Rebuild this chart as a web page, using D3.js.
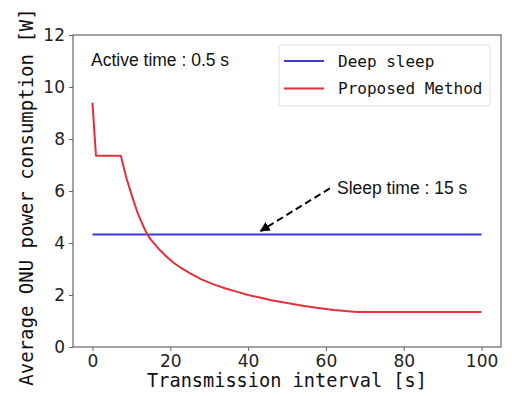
<!DOCTYPE html>
<html>
<head>
<meta charset="utf-8">
<script src="https://cdn.jsdelivr.net/npm/d3@7"></script>
<style>
  html, body { margin: 0; padding: 0; background: #fff; }
  svg { display: block; }
  .tick text { font-family: "DejaVu Sans", sans-serif; font-size: 17px; fill: #222; }
</style>
</head>
<body>
<svg id="chart" width="512" height="396"></svg>
<script>
// values
const xTicks = [0, 20, 40, 60, 80, 100];
const yTicks = [0, 2, 4, 6, 8, 10, 12];
const deepT = [0, 100];
const deepP = [4.33, 4.33];
const propT = [0, 0.9, 7.3, 8, 8.75, 9.5, 10.5, 11.5, 12.5, 13.5, 14.1, 15, 17, 19, 21, 23, 25, 28, 31, 34, 37, 40, 43, 46, 50, 54, 58, 62, 65, 68, 100];
const propP = [9.4, 7.36, 7.36, 6.93, 6.49, 6.12, 5.66, 5.2, 4.84, 4.51, 4.33, 4.13, 3.78, 3.48, 3.22, 3.02, 2.84, 2.6, 2.42, 2.26, 2.13, 2.0, 1.9, 1.8, 1.69, 1.59, 1.5, 1.42, 1.38, 1.35, 1.35];
const arrowFrom = [61, 6.1];
const arrowTo = [43.2, 4.46];

const svg = d3.select("#chart");
const m = { l: 73, r: 501, t: 35, b: 347 };
const x = d3.scaleLinear().domain([-5, 105]).range([m.l, m.r]);
const y = d3.scaleLinear().domain([0, 12]).range([m.b, m.t]);

// frame
svg.append("rect").attr("x", m.l).attr("y", m.t).attr("width", m.r - m.l).attr("height", m.b - m.t)
  .attr("fill", "none").attr("stroke", "#666").attr("stroke-width", 1.2);

const gx = svg.append("g").attr("transform", `translate(0,${m.b})`)
  .call(d3.axisBottom(x).tickValues(xTicks).tickSize(4).tickPadding(4));
const gy = svg.append("g").attr("transform", `translate(${m.l},0)`)
  .call(d3.axisLeft(y).tickValues(yTicks).tickSize(4).tickPadding(4));
[gx, gy].forEach(g => { g.select(".domain").remove(); g.selectAll(".tick line").attr("stroke", "#666"); });

const line = d3.line().x(d => x(d[0])).y(d => y(d[1]));
svg.append("path").datum(deepT.map((t, i) => [t, deepP[i]])).attr("d", line)
  .attr("fill", "none").attr("stroke", "#3b3bd4").attr("stroke-width", 2);
svg.append("path").datum(propT.map((t, i) => [t, propP[i]])).attr("d", line)
  .attr("fill", "none").attr("stroke", "#e3303c").attr("stroke-width", 2).attr("stroke-linejoin", "round");

// annotation arrow
svg.append("defs").append("marker").attr("id", "ah").attr("viewBox", "0 0 10 10").attr("refX", 9).attr("refY", 5)
  .attr("markerWidth", 5).attr("markerHeight", 5).attr("orient", "auto")
  .append("path").attr("d", "M0,0L10,5L0,10Z").attr("fill", "#000");
svg.append("line").attr("x1", x(arrowFrom[0])).attr("y1", y(arrowFrom[1])).attr("x2", x(arrowTo[0])).attr("y2", y(arrowTo[1]))
  .attr("stroke", "#000").attr("stroke-width", 2).attr("stroke-dasharray", "7,4").attr("marker-end", "url(#ah)");

const sans = "Liberation Sans, Arial, sans-serif";
svg.append("text").attr("x", 91).attr("y", 66).attr("font-family", sans).attr("font-size", 17.5).attr("fill", "#111").text("Active time : 0.5 s");
svg.append("text").attr("x", 337).attr("y", 194).attr("font-family", sans).attr("font-size", 17.5).attr("fill", "#111").text("Sleep time : 15 s");

// legend
const mono = "DejaVu Sans Mono, monospace";
const leg = svg.append("g");
leg.append("rect").attr("x", 279).attr("y", 45).attr("width", 211).attr("height", 61).attr("rx", 3)
  .attr("fill", "#fff").attr("fill-opacity", 0.8).attr("stroke", "#ddd");
[["Deep sleep", "#3b3bd4"], ["Proposed Method", "#e3303c"]].forEach(([lab, c], i) => {
  const yy = 61 + i * 27.5;
  leg.append("line").attr("x1", 284).attr("x2", 324).attr("y1", yy).attr("y2", yy).attr("stroke", c).attr("stroke-width", 2);
  leg.append("text").attr("x", 338).attr("y", yy + 5.5).attr("font-family", mono).attr("font-size", 16).attr("fill", "#111").text(lab);
});

// axis labels
svg.append("text").attr("x", (m.l + m.r) / 2 + 0).attr("y", 387).attr("text-anchor", "middle")
  .attr("font-family", mono).attr("font-size", 18.6).attr("fill", "#111").text("Transmission interval [s]");
svg.append("text").attr("transform", `translate(33,197) rotate(-90)`).attr("text-anchor", "middle")
  .attr("font-family", mono).attr("font-size", 19).attr("fill", "#111").text("Average ONU power consumption [W]");
</script>
</body>
</html>
